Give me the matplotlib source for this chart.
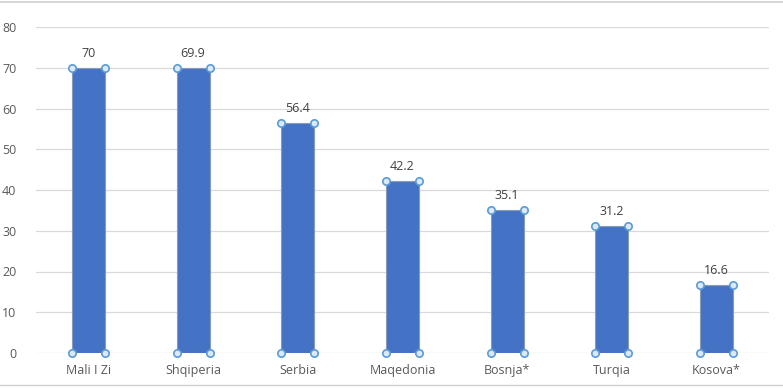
import numpy as np
import matplotlib.pyplot as plt

countries = ["Mali I Zi", "Shqiperia", "Serbia", "Maqedonia", "Bosnja*", "Turqia", "Kosova*"]
values = [70, 69.9, 56.4, 42.2, 35.1, 31.2, 16.6]
labels = ["70", "69.9", "56.4", "42.2", "35.1", "31.2", "16.6"]
yticks = [0, 10, 20, 30, 40, 50, 60, 70, 80]

plt.rcParams['font.family'] = ['Open Sans', 'DejaVu Sans']

fig = plt.figure(figsize=(7.83, 3.92), dpi=100)
ax = fig.add_axes([36/783, 39/392, 733/783, 326/392])

x = np.arange(len(countries))
w = 0.315
ax.bar(x, values, width=w, color='#4472C4', edgecolor='#8a9bb8', linewidth=0.8, zorder=3)

# selection handles at bar corners
hx = np.concatenate([x - w/2, x + w/2, x - w/2, x + w/2])
hy = np.concatenate([values, values, np.zeros(len(x)), np.zeros(len(x))])
ax.scatter(hx, hy, s=28, facecolor='#dbe9fb', edgecolor='#5b9bd5', linewidth=1.2, zorder=5, clip_on=False)

for xi, v, t in zip(x, values, labels):
    ax.text(xi, v + 2.0, t, ha='center', va='bottom', fontsize=9, color='#404040')

ax.set_xlim(-0.5, len(countries) - 0.5)
ax.set_ylim(0, 80)
ax.set_yticks(yticks)
ax.set_xticks(x)
ax.set_xticklabels(countries)
ax.tick_params(axis='both', length=0, labelsize=9, labelcolor='#595959')
ax.tick_params(axis='y', pad=14)
ax.tick_params(axis='x', pad=8)
for lab in ax.get_yticklabels():
    lab.set_horizontalalignment('right')
ax.grid(axis='y', color='#d9d9d9', linewidth=0.9, zorder=0)
for s in ax.spines.values():
    s.set_visible(False)

# frame lines of the screenshot
fig.add_artist(plt.Line2D([0, 1], [1 - 2/392, 1 - 2/392], color='#d0d0d0', linewidth=1.2))
fig.add_artist(plt.Line2D([0, 1], [7/392, 7/392], color='#d0d0d0', linewidth=1.0))

fig.savefig('out.png', dpi=100, facecolor='white')
